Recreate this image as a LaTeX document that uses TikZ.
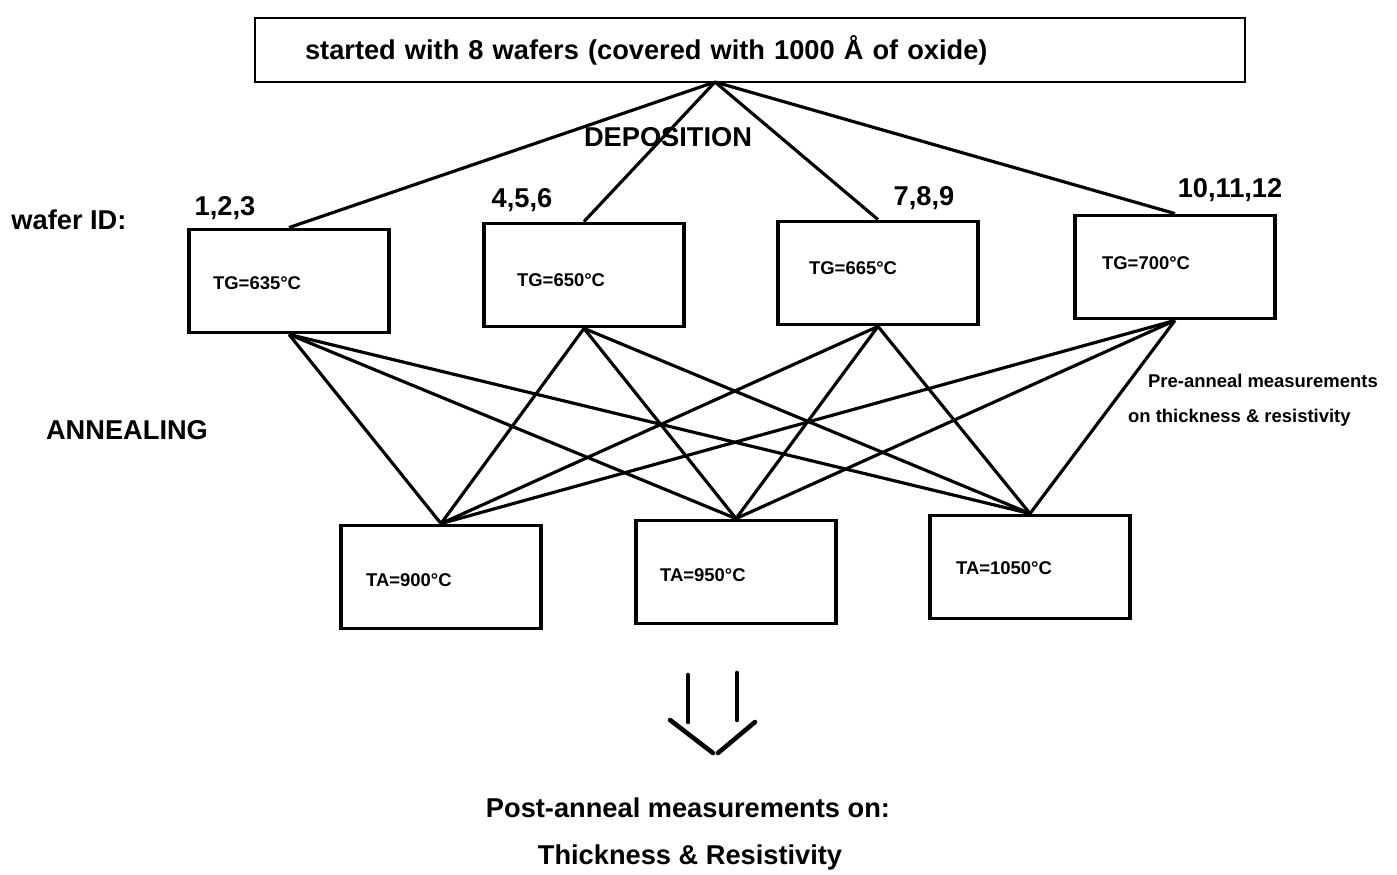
\documentclass[tikz,border=0pt]{standalone}
\usepackage{fontspec}
\setmainfont{Liberation Sans}
\usetikzlibrary{positioning}

\begin{document}
\begin{tikzpicture}[x=0.02cm, y=-0.02cm,
  box/.style={draw, line width=2.2pt, minimum width=4cm, minimum height=2.06cm, inner sep=0pt},
  link/.style={line width=1.8pt},
  big/.style={font=\fontsize{15.5}{18}\selectfont\bfseries, inner sep=1pt},
  small/.style={font=\fontsize{10.5}{12}\selectfont\bfseries, inner sep=1pt}
]
  \useasboundingbox (0,0) rectangle (1397,875);

  % wafer start
  \node[draw, line width=1.5pt, text width=17.8cm, inner xsep=1cm, minimum height=1.28cm,
        align=left, font=\fontsize{15.5}{18}\selectfont\bfseries] (start) at (750,50)
    {started with 8 wafers (covered with 1000 Å of oxide)};
  \coordinate (split) at (715,82);

  % deposition boxes
  \node[box] (tg1) at (289,281) {};
  \node[box] (tg2) at (584,275) {};
  \node[box] (tg3) at (878,273) {};
  \node[box] (tg4) at (1175,267) {};
  \node[small, anchor=west] (tg1lab) at (211,283) {TG=635°C};
  \node[small, anchor=west] (tg2lab) at (515,280) {TG=650°C};
  \node[small, anchor=west] (tg3lab) at (807,268) {TG=665°C};
  \node[small, anchor=west] (tg4lab) at (1100,263) {TG=700°C};

  % annealing boxes
  \node[box] (ta1) at (441,577) {};
  \node[box] (ta2) at (736,572) {};
  \node[box] (ta3) at (1030,567) {};
  \node[small, anchor=west] (ta1lab) at (364,580) {TA=900°C};
  \node[small, anchor=west] (ta2lab) at (658,575) {TA=950°C};
  \node[small, anchor=west] (ta3lab) at (954,568) {TA=1050°C};

  \foreach \t in {tg1,tg2,tg3,tg4}
    \draw[link] (split) -- (\t.north);
  \foreach \t in {tg1,tg2,tg3,tg4}
    \foreach \a in {ta1,ta2,ta3}
      \draw[link] (\t.south) -- (\a.north);

  % labels
  \node[big] (depo) at (668,137) {DEPOSITION};
  \node[big] (waferid) at (69,220) {wafer ID:};
  \node[big] (ids1) at (225,208) {1,2,3};
  \node[big] (ids2) at (522,200) {4,5,6};
  \node[big] (ids3) at (924,198) {7,8,9};
  \node[big] (ids4) at (1230,190) {10,11,12};
  \node[big] (anneal) at (127,430) {ANNEALING};
  \node[small, anchor=west] (pre1) at (1146,381) {Pre-anneal measurements};
  \node[small, anchor=west] (pre2) at (1126,418) {on thickness \& resistivity};

  % double arrow down
  \draw[line width=2.6pt, line cap=round] (688,675) -- (688,722);
  \draw[line width=2.6pt, line cap=round] (737,673) -- (737,720);
  \draw[line width=2.6pt, line cap=round] (670,720) -- (713,753);
  \draw[line width=2.6pt, line cap=round] (718,753) -- (755,722);

  \node[big] (post) at (688,808) {Post-anneal measurements on:};
  \node[big] (thick) at (690,857) {Thickness \& Resistivity};
\end{tikzpicture}
\end{document}
